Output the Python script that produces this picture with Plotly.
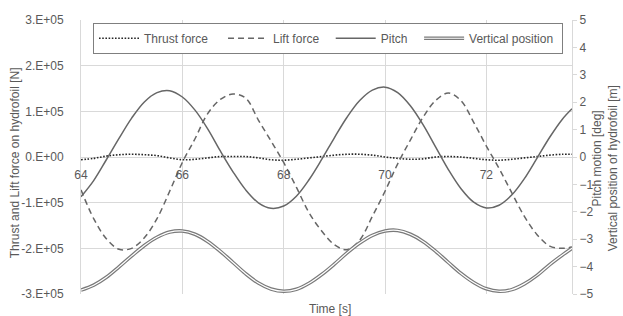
import plotly.graph_objects as go

# ---------------- data ----------------
time_s = [64.0, 64.25, 64.5, 64.75, 65.0, 65.25, 65.5, 65.75, 66.0, 66.25,
          66.5, 66.75, 67.0, 67.25, 67.5, 67.75, 68.0, 68.25, 68.5, 68.75,
          69.0, 69.25, 69.5, 69.75, 70.0, 70.25, 70.5, 70.75, 71.0, 71.25,
          71.5, 71.75, 72.0, 72.25, 72.5, 72.75, 73.0, 73.25, 73.5, 73.69]

thrust_force_N = [-6000, -3000, 2000, 5000, 6000, 5000, 3000, -2000, -6000, -5000,
                  -2000, 1000, 1000, 1000, -2000, -6000, -7000, -5000, -2000, 1000,
                  4000, 6000, 6000, 4000, 0, -3000, -5000, -4000, 0, 1000,
                  0, -3000, -6000, -7000, -5000, -2000, 1000, 4000, 6000, 6000]

lift_force_N = [-72000, -135000, -179000, -202000, -200000, -177000, -135000, -75000, -12000, 40000,
                95000, 126000, 138000, 129000, 81000, 35000, -12000, -66000, -122000, -162000,
                -192000, -203000, -182000, -130000, -75000, -15000, 37000, 87000, 124000, 140000,
                123000, 76000, 24000, -25000, -78000, -130000, -170000, -195000, -200000, -197000]

pitch_deg = [-1.45, -0.86, -0.10, 0.68, 1.42, 2.01, 2.35, 2.42, 2.19, 1.71,
             1.03, 0.22, -0.54, -1.20, -1.67, -1.87, -1.79, -1.43, -0.83, -0.09,
             0.70, 1.45, 2.06, 2.44, 2.55, 2.35, 1.87, 1.18, 0.36, -0.46,
             -1.16, -1.65, -1.86, -1.76, -1.39, -0.79, -0.04, 0.72, 1.38, 1.76]

vertical_pos_m = [-4.86, -4.68, -4.39, -4.01, -3.61, -3.23, -2.93, -2.74, -2.70, -2.82,
                  -3.08, -3.44, -3.85, -4.26, -4.60, -4.82, -4.90, -4.83, -4.61, -4.29,
                  -3.91, -3.50, -3.14, -2.86, -2.70, -2.68, -2.82, -3.08, -3.44, -3.85,
                  -4.25, -4.58, -4.81, -4.90, -4.84, -4.63, -4.32, -3.93, -3.58, -3.33]

x_ticks = [64, 66, 68, 70, 72]
left_tick_vals = [-300000, -200000, -100000, 0, 100000, 200000, 300000]
left_tick_text = ["-3.E+05", "-2.E+05", "-1.E+05", "0.E+00", "1.E+05", "2.E+05", "3.E+05"]
right_tick_vals = [-5, -4, -3, -2, -1, 0, 1, 2, 3, 4, 5]

# ---------------- styling ----------------
FONT = "Liberation Sans, Arial, sans-serif"
FS = 12
TXT = "#595959"
GRID = "#d9d9d9"
LINE = "#666666"
NB = "\u00a0"
PLOT_W = 623 - 81 - 51
LEG_X_PX = 93          # left edge of the legend box (px from figure left)
LEG4_SHIFT_PX = 325.0  # offset of the 4th legend entry inside the legend
LEG_Y = 0.990

fig = go.Figure()

fig.add_trace(go.Scatter(
    x=time_s, y=thrust_force_N, name="Thrust force" + NB * 3, mode="lines",
    line=dict(color="#262626", width=1.6, dash="1.6px,1.6px", shape="spline"),
    yaxis="y"))
fig.add_trace(go.Scatter(
    x=time_s, y=lift_force_N, name="Lift force" + NB * 2, mode="lines",
    line=dict(color=LINE, width=1.5, dash="6px,4px", shape="spline"),
    yaxis="y"))
fig.add_trace(go.Scatter(
    x=time_s, y=pitch_deg, name="Pitch" + NB * 2, mode="lines",
    line=dict(color=LINE, width=1.5, shape="spline"),
    yaxis="y2"))
fig.add_trace(go.Scatter(
    x=time_s, y=vertical_pos_m, name="Vertical position" + NB, mode="lines",
    line=dict(color="#7a7a7a", width=3.6, shape="spline"),
    yaxis="y2"))
# inner white stroke -> double line; its legend sits exactly over entry 4
fig.add_trace(go.Scatter(
    x=time_s, y=vertical_pos_m, name="Vertical position" + NB, mode="lines",
    line=dict(color="white", width=1.2, shape="spline"),
    yaxis="y2", legend="legend2", hoverinfo="skip"))

leg_common = dict(orientation="h", xanchor="left", yanchor="top", y=LEG_Y,
                  borderwidth=1, itemwidth=40, tracegroupgap=0,
                  itemclick=False, itemdoubleclick=False)

fig.update_layout(
    width=623, height=316,
    margin=dict(l=81, r=51, t=20, b=22),
    paper_bgcolor="white", plot_bgcolor="white",
    font=dict(family=FONT, size=FS, color=TXT),
    showlegend=True,
    legend=dict(x=(LEG_X_PX - 81) / PLOT_W, bgcolor="white", bordercolor="#7f7f7f",
                font=dict(family=FONT, size=FS, color=TXT), **leg_common),
    legend2=dict(x=(LEG_X_PX + LEG4_SHIFT_PX - 81) / PLOT_W,
                 bgcolor="rgba(0,0,0,0)", bordercolor="rgba(0,0,0,0)",
                 font=dict(family=FONT, size=FS, color="rgba(0,0,0,0)"), **leg_common),
    xaxis=dict(
        range=[64, 73.69], tickvals=x_ticks, showgrid=True, gridcolor=GRID, gridwidth=1,
        zeroline=False, showline=False, ticks="", anchor="free", position=0.5,
        tickfont=dict(family=FONT, size=FS, color=TXT), ticklabelstandoff=9,
    ),
    yaxis=dict(
        range=[-300000, 300000], tickvals=left_tick_vals, ticktext=left_tick_text,
        showgrid=True, gridcolor=GRID, gridwidth=1, zeroline=False,
        showline=True, linecolor=GRID, ticks="",
        tickfont=dict(family=FONT, size=FS, color=TXT), ticklabelstandoff=14,
    ),
    yaxis2=dict(
        range=[-5, 5], tickvals=right_tick_vals, overlaying="y", side="right",
        showgrid=False, zeroline=False, showline=True, linecolor=GRID,
        ticks="outside", ticklen=4, tickcolor=GRID,
        tickfont=dict(family=FONT, size=FS, color=TXT), ticklabelstandoff=0,
    ),
    annotations=[
        dict(text="Time [s]", xref="paper", yref="paper", x=0.508, y=-0.053,
             xanchor="center", yanchor="middle", showarrow=False,
             font=dict(family=FONT, size=FS, color=TXT)),
        dict(text="Thrust and Lift force on hydrofoil [N]", xref="paper", yref="paper",
             x=-0.134, y=0.478, xanchor="center", yanchor="middle", textangle=-90,
             showarrow=False, font=dict(family=FONT, size=FS, color=TXT)),
        dict(text="Pitch motion [deg]", xref="paper", yref="paper",
             x=1.051, y=0.495, xanchor="center", yanchor="middle", textangle=-90,
             showarrow=False, font=dict(family=FONT, size=FS, color=TXT)),
        dict(text="Vertical position of hydrofoil [m]", xref="paper", yref="paper",
             x=1.083, y=0.458, xanchor="center", yanchor="middle", textangle=-90,
             showarrow=False, font=dict(family=FONT, size=FS, color=TXT)),
    ],
)

fig.write_html("out.html", config={"displayModeBar": False},
               post_script="document.body.style.margin='0px';")
